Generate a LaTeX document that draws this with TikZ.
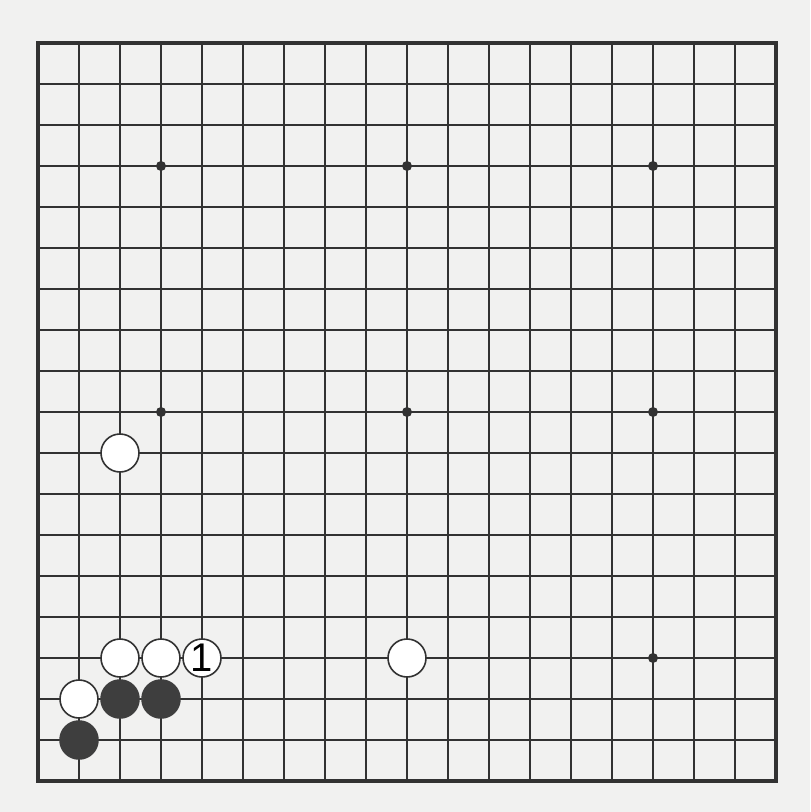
\documentclass[tikz,border=0pt]{standalone}
\usepackage{fontspec}
\setsansfont{Liberation Sans}
\definecolor{paper}{RGB}{241,241,240}
\definecolor{ink}{RGB}{50,50,50}
\definecolor{blackstone}{RGB}{62,62,62}
\begin{document}
\begin{tikzpicture}[x=0.5pt,y=-0.5pt,
  gridline/.style={ink,line width=1pt},
  border/.style={ink,line width=1.8pt},
  star/.style={circle,fill=ink,inner sep=0pt,minimum size=5pt},
  wstone/.style={circle,draw=ink,line width=0.8pt,fill=white,inner sep=0pt,minimum size=19pt,font=\sffamily\fontsize{20}{20}\selectfont},
  bstone/.style={circle,draw=blackstone,line width=0.8pt,fill=blackstone,inner sep=0pt,minimum size=19pt}]
\fill[paper] (0,0) rectangle (810,812);
\useasboundingbox (0,0) rectangle (810,812);
\foreach \k in {1,...,17}{
  \draw[gridline] ({38+41*\k},43) -- ({38+41*\k},781);
  \draw[gridline] (38,{43+41*\k}) -- (776,{43+41*\k});
}
\draw[border] (38,43) rectangle (776,781);
\foreach \i in {3,9,15}{\foreach \j in {3,9,15}{
  \node[star] (s\i\j) at ({38+41*\i},{43+41*\j}) {};
}}
\node[wstone] (w1) at ({38+41*2},{43+41*10}) {};
\node[wstone] (w2) at ({38+41*2},{43+41*15}) {};
\node[wstone] (w3) at ({38+41*3},{43+41*15}) {};
\node[wstone] (w4) at ({38+41*4},{43+41*15}) {1};
\node[wstone] (w5) at ({38+41*9},{43+41*15}) {};
\node[wstone] (w6) at ({38+41*1},{43+41*16}) {};
\node[bstone] (b1) at ({38+41*2},{43+41*16}) {};
\node[bstone] (b2) at ({38+41*3},{43+41*16}) {};
\node[bstone] (b3) at ({38+41*1},{43+41*17}) {};
\end{tikzpicture}
\end{document}
